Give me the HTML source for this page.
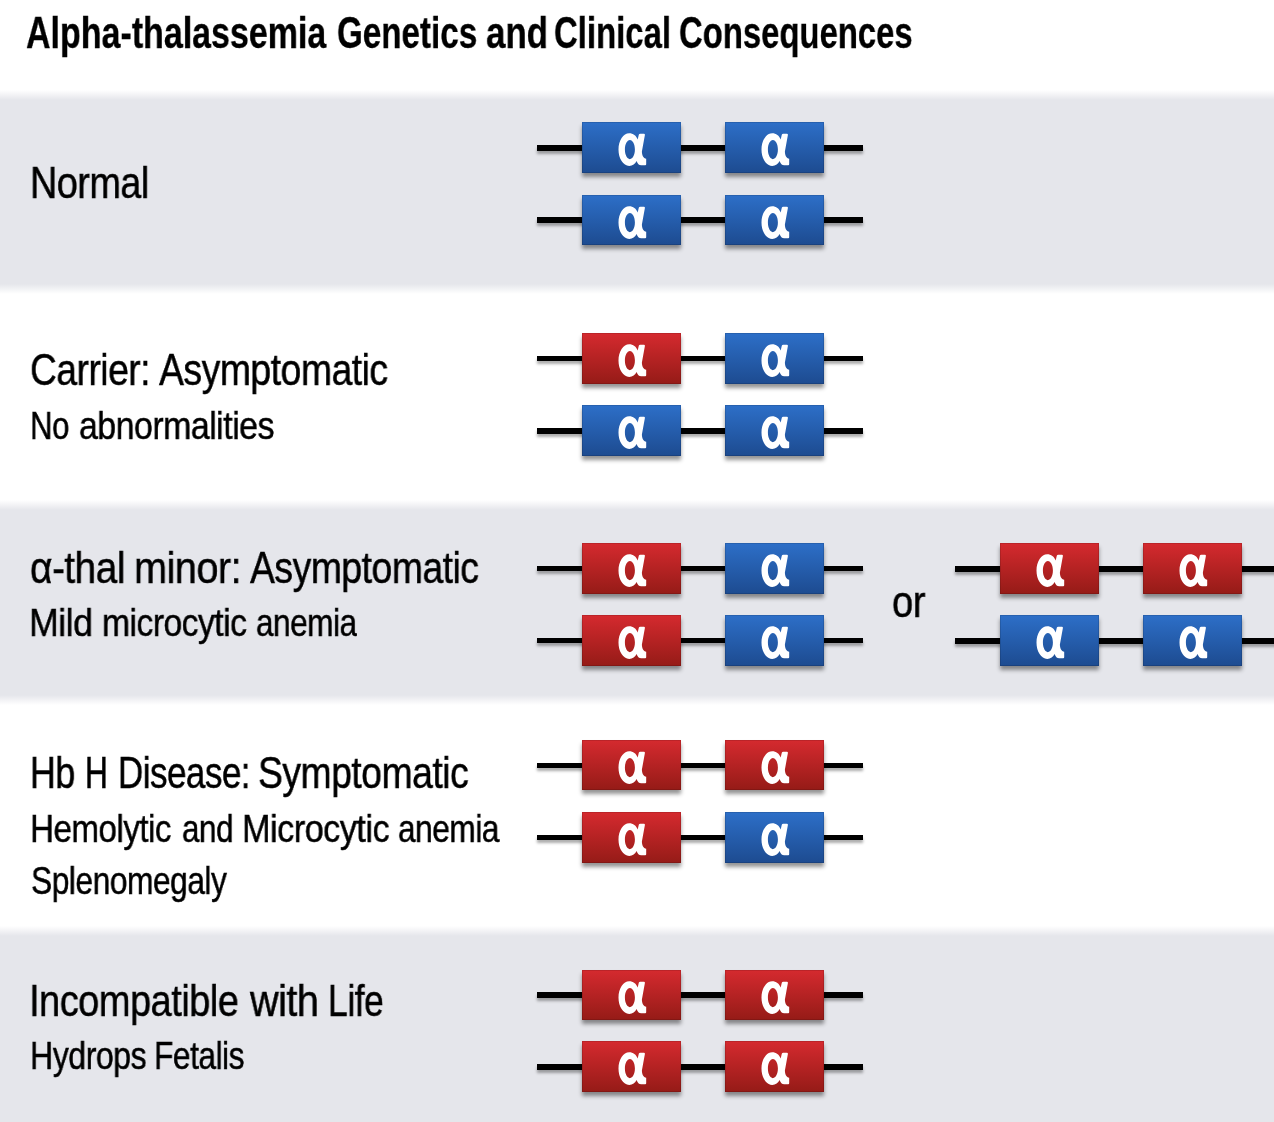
<!DOCTYPE html>
<html>
<head>
<meta charset="utf-8">
<style>
html,body{margin:0;padding:0;}
body{width:1274px;height:1122px;overflow:hidden;position:relative;background:#fff;font-family:"Liberation Sans",sans-serif;color:#000;}
.band{position:absolute;left:0;width:1274px;background:linear-gradient(#fff 0,#e5e6eb 10px,#e5e6eb calc(100% - 10px),#fff 100%);}
.t{position:absolute;white-space:nowrap;transform-origin:0 0;line-height:1;will-change:transform;}
.ln{position:absolute;height:5.5px;background:#000;box-shadow:0 3px 3px rgba(0,0,0,0.33);}
.bx{position:absolute;width:99.4px;height:50.5px;box-shadow:0 3.5px 4px rgba(0,0,0,0.42),inset 0 0 0 1px rgba(0,0,0,0.12);overflow:hidden;}
.bl{background:linear-gradient(#2d6fc8,#1d4b90);}
.rd{background:linear-gradient(#d52a2f,#951b17);}
.a{position:absolute;left:0;top:0;width:100%;height:100%;}
</style>
</head>
<body>
<svg width="0" height="0" style="position:absolute"><defs><path id="al" fill="#fff" fill-rule="evenodd" d="M46.9 10.6C50.8 10.6 54 12.9 55.4 17.2L56.5 12.3Q56.8 11.3 57.9 11.3L61.6 11.3Q62.8 11.3 62.6 12.6L59.6 29.5C59.7 33.8 61.2 36.5 63.9 36.9L63.9 42.6Q63.9 43.6 62.9 43.6L58.9 43.6C56.7 43.6 55.2 41.9 54.3 39.2C52.9 42.3 50.3 44.2 46.9 44.2C40.99 44.2 36.2 36.68 36.2 27.4C36.2 18.12 40.99 10.6 46.9 10.6ZM47.6 17.7C44.84 17.7 42.6 22.09 42.6 27.5C42.6 32.91 44.84 37.3 47.6 37.3C50.36 37.3 52.6 32.91 52.6 27.5C52.6 22.09 50.36 17.7 47.6 17.7Z"/></defs></svg>
<div class="band" style="top:89.5px;height:204.5px;"></div>
<div class="band" style="top:500px;height:205px;"></div>
<div class="band" style="top:925.5px;height:229.5px;"></div>
<div class="t" style="left:26.43px;top:11.0px;font-size:44px;font-weight:bold;-webkit-text-stroke:0.3px #000;letter-spacing:0.0px;transform:scaleX(0.7724);">Alpha-thalassemia</div>
<div class="t" style="left:336.89px;top:11.0px;font-size:44px;font-weight:bold;-webkit-text-stroke:0.3px #000;letter-spacing:0.0px;transform:scaleX(0.7538);">Genetics</div>
<div class="t" style="left:486.31px;top:11.0px;font-size:44px;font-weight:bold;-webkit-text-stroke:0.3px #000;letter-spacing:0.0px;transform:scaleX(0.7933);">and</div>
<div class="t" style="left:554.2px;top:11.0px;font-size:44px;font-weight:bold;-webkit-text-stroke:0.3px #000;letter-spacing:0.0px;transform:scaleX(0.748);">Clinical</div>
<div class="t" style="left:678.71px;top:11.0px;font-size:44px;font-weight:bold;-webkit-text-stroke:0.3px #000;letter-spacing:0.0px;transform:scaleX(0.7466);">Consequences</div>
<div class="t" style="left:30.05px;top:160.8px;font-size:44.5px;-webkit-text-stroke:0.5px #000;letter-spacing:-0.6px;transform:scaleX(0.8496);">Normal</div>
<div class="t" style="left:30.33px;top:347.8px;font-size:44.5px;-webkit-text-stroke:0.5px #000;letter-spacing:-0.6px;transform:scaleX(0.8362);">Carrier:</div>
<div class="t" style="left:159.0px;top:347.8px;font-size:44.5px;-webkit-text-stroke:0.5px #000;letter-spacing:-0.6px;transform:scaleX(0.8397);">Asymptomatic</div>
<div class="t" style="left:30.14px;top:405.9px;font-size:39.5px;-webkit-text-stroke:0.5px #000;letter-spacing:-0.6px;transform:scaleX(0.787);">No</div>
<div class="t" style="left:78.74px;top:405.9px;font-size:39.5px;-webkit-text-stroke:0.5px #000;letter-spacing:-0.6px;transform:scaleX(0.8584);">abnormalities</div>
<div class="t" style="left:29.75px;top:545.6px;font-size:44.5px;-webkit-text-stroke:0.5px #000;letter-spacing:-0.6px;transform:scaleX(0.8733);">α-thal</div>
<div class="t" style="left:134.42px;top:545.6px;font-size:44.5px;-webkit-text-stroke:0.5px #000;letter-spacing:-0.6px;transform:scaleX(0.8921);">minor:</div>
<div class="t" style="left:250.1px;top:545.6px;font-size:44.5px;-webkit-text-stroke:0.5px #000;letter-spacing:-0.6px;transform:scaleX(0.8393);">Asymptomatic</div>
<div class="t" style="left:29.49px;top:603.3px;font-size:39.5px;-webkit-text-stroke:0.5px #000;letter-spacing:-0.6px;transform:scaleX(0.9045);">Mild</div>
<div class="t" style="left:102.4px;top:603.3px;font-size:39.5px;-webkit-text-stroke:0.5px #000;letter-spacing:-0.6px;transform:scaleX(0.8515);">microcytic</div>
<div class="t" style="left:255.8px;top:603.3px;font-size:39.5px;-webkit-text-stroke:0.5px #000;letter-spacing:-0.6px;transform:scaleX(0.7992);">anemia</div>
<div class="t" style="left:30.09px;top:750.8px;font-size:44.5px;-webkit-text-stroke:0.5px #000;letter-spacing:-0.6px;transform:scaleX(0.8038);">Hb</div>
<div class="t" style="left:84.97px;top:750.8px;font-size:44.5px;-webkit-text-stroke:0.5px #000;letter-spacing:-0.6px;transform:scaleX(0.7115);">H</div>
<div class="t" style="left:117.75px;top:750.8px;font-size:44.5px;-webkit-text-stroke:0.5px #000;letter-spacing:-0.6px;transform:scaleX(0.7846);">Disease:</div>
<div class="t" style="left:258.12px;top:750.8px;font-size:44.5px;-webkit-text-stroke:0.5px #000;letter-spacing:-0.6px;transform:scaleX(0.8387);">Symptomatic</div>
<div class="t" style="left:29.98px;top:808.6px;font-size:39.5px;-webkit-text-stroke:0.5px #000;letter-spacing:-0.6px;transform:scaleX(0.8394);">Hemolytic</div>
<div class="t" style="left:182.0px;top:808.6px;font-size:39.5px;-webkit-text-stroke:0.5px #000;letter-spacing:-0.6px;transform:scaleX(0.7968);">and</div>
<div class="t" style="left:242.1px;top:808.6px;font-size:39.5px;-webkit-text-stroke:0.5px #000;letter-spacing:-0.6px;transform:scaleX(0.8675);">Microcytic</div>
<div class="t" style="left:398.2px;top:808.6px;font-size:39.5px;-webkit-text-stroke:0.5px #000;letter-spacing:-0.6px;transform:scaleX(0.8016);">anemia</div>
<div class="t" style="left:30.69px;top:861.0px;font-size:39.5px;-webkit-text-stroke:0.5px #000;letter-spacing:-0.6px;transform:scaleX(0.8037);">Splenomegaly</div>
<div class="t" style="left:28.58px;top:978.5px;font-size:44.5px;-webkit-text-stroke:0.5px #000;letter-spacing:-0.6px;transform:scaleX(0.8542);">Incompatible</div>
<div class="t" style="left:249.8px;top:978.5px;font-size:44.5px;-webkit-text-stroke:0.5px #000;letter-spacing:-0.6px;transform:scaleX(0.892);">with</div>
<div class="t" style="left:327.51px;top:978.5px;font-size:44.5px;-webkit-text-stroke:0.5px #000;letter-spacing:-0.6px;transform:scaleX(0.7969);">Life</div>
<div class="t" style="left:30.06px;top:1035.9px;font-size:39.5px;-webkit-text-stroke:0.5px #000;letter-spacing:-0.6px;transform:scaleX(0.8129);">Hydrops</div>
<div class="t" style="left:154.39px;top:1035.9px;font-size:39.5px;-webkit-text-stroke:0.5px #000;letter-spacing:-0.6px;transform:scaleX(0.8028);">Fetalis</div>
<div class="t" style="left:892.09px;top:580.0px;font-size:44.5px;-webkit-text-stroke:0.5px #000;letter-spacing:-0.6px;transform:scaleX(0.8568);">or</div>
<div class="ln" style="left:537px;width:326px;top:145.2px;"></div>
<div class="bx bl" style="left:582px;top:122.4px;"><svg class="a" viewBox="0 0 99 50.5"><use href="#al" transform="translate(0.1,0.8) scale(1,0.975)"/></svg></div>
<div class="bx bl" style="left:725px;top:122.4px;"><svg class="a" viewBox="0 0 99 50.5"><use href="#al" transform="translate(0.1,0.8) scale(1,0.975)"/></svg></div>
<div class="ln" style="left:537px;width:326px;top:217.4px;"></div>
<div class="bx bl" style="left:582px;top:194.6px;"><svg class="a" viewBox="0 0 99 50.5"><use href="#al" transform="translate(0.1,0.8) scale(1,0.975)"/></svg></div>
<div class="bx bl" style="left:725px;top:194.6px;"><svg class="a" viewBox="0 0 99 50.5"><use href="#al" transform="translate(0.1,0.8) scale(1,0.975)"/></svg></div>
<div class="ln" style="left:537px;width:326px;top:355.9px;"></div>
<div class="bx rd" style="left:582px;top:333.1px;"><svg class="a" viewBox="0 0 99 50.5"><use href="#al" transform="translate(0.1,0.8) scale(1,0.975)"/></svg></div>
<div class="bx bl" style="left:725px;top:333.1px;"><svg class="a" viewBox="0 0 99 50.5"><use href="#al" transform="translate(0.1,0.8) scale(1,0.975)"/></svg></div>
<div class="ln" style="left:537px;width:326px;top:428.1px;"></div>
<div class="bx bl" style="left:582px;top:405.3px;"><svg class="a" viewBox="0 0 99 50.5"><use href="#al" transform="translate(0.1,0.8) scale(1,0.975)"/></svg></div>
<div class="bx bl" style="left:725px;top:405.3px;"><svg class="a" viewBox="0 0 99 50.5"><use href="#al" transform="translate(0.1,0.8) scale(1,0.975)"/></svg></div>
<div class="ln" style="left:537px;width:326px;top:565.9px;"></div>
<div class="bx rd" style="left:582px;top:543.1px;"><svg class="a" viewBox="0 0 99 50.5"><use href="#al" transform="translate(0.1,0.8) scale(1,0.975)"/></svg></div>
<div class="bx bl" style="left:725px;top:543.1px;"><svg class="a" viewBox="0 0 99 50.5"><use href="#al" transform="translate(0.1,0.8) scale(1,0.975)"/></svg></div>
<div class="ln" style="left:537px;width:326px;top:637.8px;"></div>
<div class="bx rd" style="left:582px;top:615.0px;"><svg class="a" viewBox="0 0 99 50.5"><use href="#al" transform="translate(0.1,0.8) scale(1,0.975)"/></svg></div>
<div class="bx bl" style="left:725px;top:615.0px;"><svg class="a" viewBox="0 0 99 50.5"><use href="#al" transform="translate(0.1,0.8) scale(1,0.975)"/></svg></div>
<div class="ln" style="left:537px;width:326px;top:762.5px;"></div>
<div class="bx rd" style="left:582px;top:739.7px;"><svg class="a" viewBox="0 0 99 50.5"><use href="#al" transform="translate(0.1,0.8) scale(1,0.975)"/></svg></div>
<div class="bx rd" style="left:725px;top:739.7px;"><svg class="a" viewBox="0 0 99 50.5"><use href="#al" transform="translate(0.1,0.8) scale(1,0.975)"/></svg></div>
<div class="ln" style="left:537px;width:326px;top:834.8px;"></div>
<div class="bx rd" style="left:582px;top:812.0px;"><svg class="a" viewBox="0 0 99 50.5"><use href="#al" transform="translate(0.1,0.8) scale(1,0.975)"/></svg></div>
<div class="bx bl" style="left:725px;top:812.0px;"><svg class="a" viewBox="0 0 99 50.5"><use href="#al" transform="translate(0.1,0.8) scale(1,0.975)"/></svg></div>
<div class="ln" style="left:537px;width:326px;top:992.3px;"></div>
<div class="bx rd" style="left:582px;top:969.5px;"><svg class="a" viewBox="0 0 99 50.5"><use href="#al" transform="translate(0.1,0.8) scale(1,0.975)"/></svg></div>
<div class="bx rd" style="left:725px;top:969.5px;"><svg class="a" viewBox="0 0 99 50.5"><use href="#al" transform="translate(0.1,0.8) scale(1,0.975)"/></svg></div>
<div class="ln" style="left:537px;width:326px;top:1064.1px;"></div>
<div class="bx rd" style="left:582px;top:1041.3px;"><svg class="a" viewBox="0 0 99 50.5"><use href="#al" transform="translate(0.1,0.8) scale(1,0.975)"/></svg></div>
<div class="bx rd" style="left:725px;top:1041.3px;"><svg class="a" viewBox="0 0 99 50.5"><use href="#al" transform="translate(0.1,0.8) scale(1,0.975)"/></svg></div>
<div class="ln" style="left:955px;width:326px;top:566.0px;"></div>
<div class="bx rd" style="left:1000px;top:543.2px;"><svg class="a" viewBox="0 0 99 50.5"><use href="#al" transform="translate(0.1,0.8) scale(1,0.975)"/></svg></div>
<div class="bx rd" style="left:1143px;top:543.2px;"><svg class="a" viewBox="0 0 99 50.5"><use href="#al" transform="translate(0.1,0.8) scale(1,0.975)"/></svg></div>
<div class="ln" style="left:955px;width:326px;top:638.0px;"></div>
<div class="bx bl" style="left:1000px;top:615.2px;"><svg class="a" viewBox="0 0 99 50.5"><use href="#al" transform="translate(0.1,0.8) scale(1,0.975)"/></svg></div>
<div class="bx bl" style="left:1143px;top:615.2px;"><svg class="a" viewBox="0 0 99 50.5"><use href="#al" transform="translate(0.1,0.8) scale(1,0.975)"/></svg></div>
</body>
</html>
